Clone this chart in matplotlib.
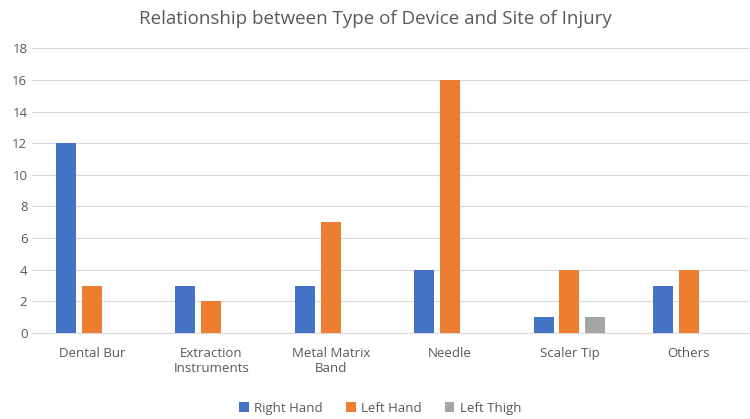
import numpy as np
import matplotlib.pyplot as plt

plt.rcParams['font.family'] = ['Open Sans', 'DejaVu Sans']

categories = ['Dental Bur', 'Extraction\nInstruments', 'Metal Matrix\nBand', 'Needle', 'Scaler Tip', 'Others']
right_hand = [12, 3, 3, 4, 1, 3]
left_hand = [3, 2, 7, 16, 4, 4]
left_thigh = [0, 0, 0, 0, 1, 0]

series = [('Right Hand', right_hand, '#4472C4'),
          ('Left Hand', left_hand, '#ED7D31'),
          ('Left Thigh', left_thigh, '#A5A5A5')]

fig = plt.figure(figsize=(7.5, 4.19), dpi=100)
ax = fig.add_axes([0.043, 0.205, 0.955, 0.68])

x = np.arange(len(categories))
w = 0.167
gap = 0.05
for i, (name, vals, col) in enumerate(series):
    ax.bar(x + (i - 1) * (w + gap), vals, w, color=col, label=name, zorder=3)

ax.set_xlim(-0.5, len(categories) - 0.5)
ax.set_ylim(0, 18)
ax.set_yticks(range(0, 19, 2))
ax.set_xticks(x)
ax.set_xticklabels(categories)
ax.grid(axis='y', color='#D9D9D9', linewidth=0.8, zorder=0)
for s in ['top', 'right', 'left']:
    ax.spines[s].set_visible(False)
ax.spines['bottom'].set_color('#D9D9D9')
ax.tick_params(length=0, colors='#595959', labelsize=9.5)
ax.tick_params(axis='x', pad=10)

fig.suptitle('Relationship between Type of Device and Site of Injury', y=0.975,
             fontsize=13.5, color='#595959')

ax.legend(loc='center', bbox_to_anchor=(0.486, -0.263), ncol=3, frameon=False,
          fontsize=9.5, labelcolor='#595959', handlelength=0.7, handleheight=0.7,
          columnspacing=1.8, handletextpad=0.4)

plt.savefig('out.png')
